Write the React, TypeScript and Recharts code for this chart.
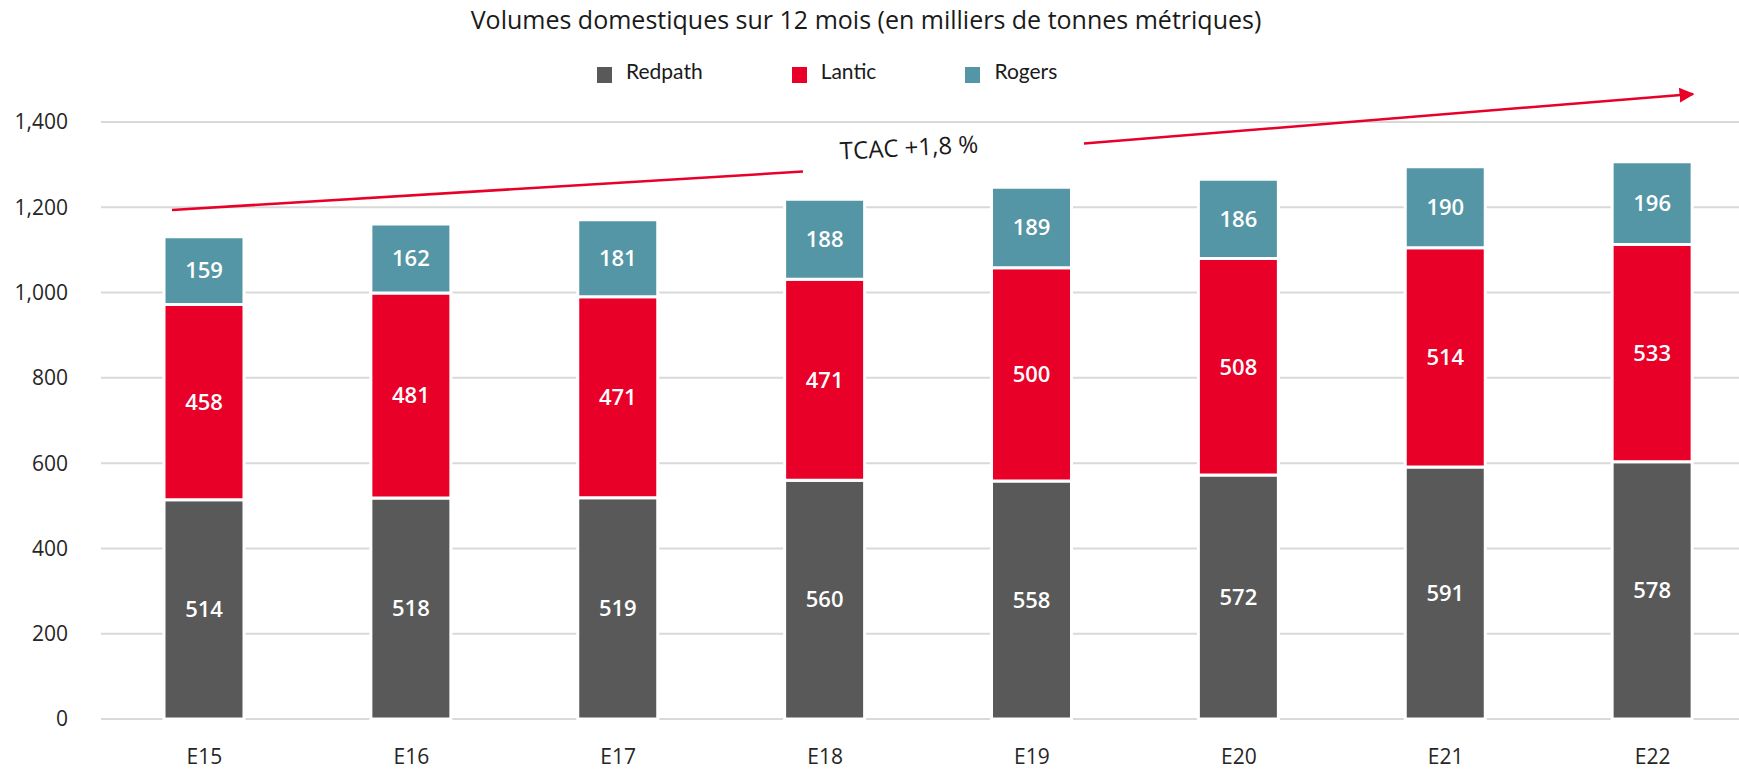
import { BarChart, Bar, XAxis, YAxis, CartesianGrid, LabelList } from "recharts";

const YEARS = ["E15", "E16", "E17", "E18", "E19", "E20", "E21", "E22"];

// bar heights as drawn in the picture
const REDPATH = [514, 518, 519, 560, 558, 572, 591, 603];
const LANTIC = [458, 481, 471, 471, 500, 508, 514, 510];
const ROGERS = [159, 162, 181, 188, 189, 186, 190, 194];

// numbers printed on the bars
const REDPATH_LABELS = ["514", "518", "519", "560", "558", "572", "591", "578"];
const LANTIC_LABELS = ["458", "481", "471", "471", "500", "508", "514", "533"];
const ROGERS_LABELS = ["159", "162", "181", "188", "189", "186", "190", "196"];

const Y_TICKS = [0, 200, 400, 600, 800, 1000, 1200, 1400];

const TITLE = "Volumes domestiques sur 12 mois (en milliers de tonnes métriques)";
const CAGR_TEXT = "TCAC +1,8 %";

const COLORS = {
  redpath: "#595959",
  lantic: "#E80029",
  rogers: "#5496A6",
};

const data = YEARS.map((year, i) => ({
  year,
  redpath: REDPATH[i],
  lantic: LANTIC[i],
  rogers: ROGERS[i],
  redpathLabel: REDPATH_LABELS[i],
  lanticLabel: LANTIC_LABELS[i],
  rogersLabel: ROGERS_LABELS[i],
}));

const legendItems = [
  { name: "Redpath", color: COLORS.redpath },
  { name: "Lantic", color: COLORS.lantic },
  { name: "Rogers", color: COLORS.rogers },
];

const labelProps = {
  position: "center" as const,
  fill: "#ffffff",
  fontSize: 22,
  fontWeight: 600,
  fontFamily: "'Open Sans', sans-serif",
};

const tickStyle = {
  fontSize: 21,
  fill: "#262626",
  fontFamily: "'Open Sans', sans-serif",
};

function Overlay() {
  return (
    <svg
      width={1739}
      height={772}
      style={{ position: "absolute", left: 0, top: 0, pointerEvents: "none" }}
    >
      <defs>
        <marker
          id="arrowHead"
          viewBox="0 0 10 10"
          refX="9"
          refY="5"
          markerWidth="6"
          markerHeight="6"
          markerUnits="strokeWidth"
          orient="auto"
        >
          <path d="M0,0 L10,5 L0,10 z" fill={COLORS.lantic} />
        </marker>
      </defs>

      <text
        x={866}
        y={29}
        textAnchor="middle"
        fontFamily="'Open Sans', sans-serif"
        fontSize={25}
        fill="#1a1a1a"
      >
        {TITLE}
      </text>

      <foreignObject x={0} y={58} width={1739} height={40}>
        <div
          style={{
            display: "flex",
            justifyContent: "flex-start",
            paddingLeft: 597,
            gap: 89,
            fontFamily: "Lato, sans-serif",
            fontSize: 21,
            color: "#1a1a1a",
          }}
        >
          {legendItems.map((item) => (
            <div key={item.name} style={{ display: "flex", alignItems: "center" }}>
              <span
                style={{
                  width: 15,
                  height: 16,
                  background: item.color,
                  display: "inline-block",
                  marginRight: 14,
                  marginTop: 8,
                }}
              />
              <span>{item.name}</span>
            </div>
          ))}
        </div>
      </foreignObject>

      <line x1={172} y1={210} x2={803} y2={171.5} stroke={COLORS.lantic} strokeWidth={2.5} />
      <line
        x1={1084}
        y1={143.5}
        x2={1693}
        y2={94}
        stroke={COLORS.lantic}
        strokeWidth={2.5}
        markerEnd="url(#arrowHead)"
      />
      <text
        x={909}
        y={156}
        textAnchor="middle"
        fontFamily="'Open Sans', sans-serif"
        fontSize={24}
        fill="#1a1a1a"
        transform="rotate(-3 909 148)"
      >
        {CAGR_TEXT}
      </text>
    </svg>
  );
}

export default function App() {
  return (
    <div
      style={{
        position: "absolute",
        left: 0,
        top: 0,
        width: 1739,
        height: 772,
        overflow: "hidden",
        background: "#ffffff",
      }}
    >
      <BarChart
        width={1756}
        height={772}
        data={data}
        margin={{ top: 122, right: 0, bottom: 0, left: 0 }}
        barSize={80}
      >
        <CartesianGrid vertical={false} stroke="#d9d9d9" strokeWidth={2} />
        <XAxis
          dataKey="year"
          axisLine={false}
          tickLine={false}
          tickSize={0}
          tickMargin={30}
          height={53}
          tick={tickStyle}
        />
        <YAxis
          domain={[0, 1400]}
          ticks={Y_TICKS}
          axisLine={false}
          tickLine={false}
          tickSize={0}
          tickMargin={33}
          width={101}
          tick={tickStyle}
          tickFormatter={(v: number) => v.toLocaleString("en-US")}
        />
        <Bar
          dataKey="redpath"
          stackId="a"
          fill={COLORS.redpath}
          stroke="#ffffff"
          strokeWidth={3}
          isAnimationActive={false}
        >
          <LabelList dataKey="redpathLabel" {...labelProps} />
        </Bar>
        <Bar
          dataKey="lantic"
          stackId="a"
          fill={COLORS.lantic}
          stroke="#ffffff"
          strokeWidth={3}
          isAnimationActive={false}
        >
          <LabelList dataKey="lanticLabel" {...labelProps} />
        </Bar>
        <Bar
          dataKey="rogers"
          stackId="a"
          fill={COLORS.rogers}
          stroke="#ffffff"
          strokeWidth={3}
          isAnimationActive={false}
        >
          <LabelList dataKey="rogersLabel" {...labelProps} />
        </Bar>
      </BarChart>
      <Overlay />
    </div>
  );
}
